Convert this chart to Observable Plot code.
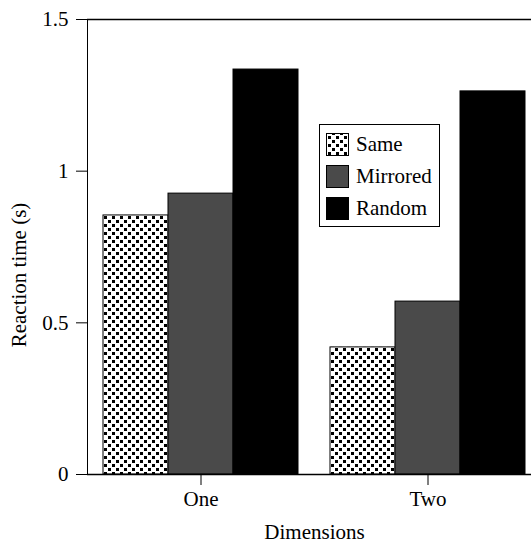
<!DOCTYPE html>
<html>
<head>
<meta charset="utf-8">
<script src="https://cdn.jsdelivr.net/npm/d3@7"></script>
<script src="https://cdn.jsdelivr.net/npm/@observablehq/plot@0.6"></script>
<style>
  html, body { margin: 0; padding: 0; background: white; }
  #chart { width: 531px; height: 544px; overflow: hidden; position: relative; }
  #chart svg { max-width: none !important; }
</style>
</head>
<body>
<div id="chart"></div>
<script>
const dimensions = ["One", "Two"];
const conditions = ["Same", "Mirrored", "Random"];
const sameValues = [0.854, 0.419];
const mirroredValues = [0.926, 0.570];
const randomValues = [1.335, 1.263];
const yTicks = [0, 0.5, 1, 1.5];
const fills = ["url(#dots)", "#4a4a4a", "#000000"];

const seriesValues = [sameValues, mirroredValues, randomValues];
const data = [];
dimensions.forEach((dim, i) => {
  conditions.forEach((cond, j) => {
    data.push({dim, cond, value: seriesValues[j][i]});
  });
});

const FONT = "Liberation Serif";

const plot = Plot.plot({
  width: 541,
  height: 544,
  marginLeft: 87,
  marginRight: 0,
  marginTop: 19,
  marginBottom: 70,
  style: {fontFamily: FONT, fontSize: "21px", color: "black", background: "white", overflow: "visible", maxWidth: "none"},
  fx: {domain: dimensions, paddingInner: 0, paddingOuter: 0, axis: "bottom", tickSize: 11, tickPadding: 6,
       label: "Dimensions", labelAnchor: "center", labelOffset: 64},
  x: {domain: conditions, axis: null, paddingInner: 0, paddingOuter: 0.246},
  y: {domain: [0, 1.5], ticks: yTicks, tickFormat: d => String(d), tickSize: 11, tickPadding: 8, label: null, line: true},
  color: {domain: conditions, range: fills},
  marks: [
    Plot.barY(data, {fx: "dim", x: "cond", y: "value", fill: "cond", stroke: "black", strokeWidth: 1, inset: 0}),
    Plot.ruleY([0], {stroke: "black", strokeWidth: 1.5}),
    Plot.ruleY([1.5], {stroke: "black", strokeWidth: 1.5})
  ]
});

const svg = d3.select(plot);
const defs = svg.insert("defs", ":first-child");
const pat = defs.append("pattern").attr("id", "dots").attr("patternUnits", "userSpaceOnUse")
  .attr("width", 8).attr("height", 8);
pat.append("rect").attr("width", 8).attr("height", 8).attr("fill", "white");
pat.append("rect").attr("x", 0).attr("y", 0).attr("width", 3).attr("height", 3).attr("fill", "black");
pat.append("rect").attr("x", 4).attr("y", 4).attr("width", 3).attr("height", 3).attr("fill", "black");

// y-axis title
svg.append("text")
  .attr("transform", "translate(26,275) rotate(-90)")
  .attr("text-anchor", "middle")
  .attr("font-family", FONT).attr("font-size", 21)
  .attr("fill", "black")
  .text("Reaction time (s)");

// legend
const lg = svg.append("g").attr("font-family", FONT).attr("font-size", 21).attr("text-anchor", "start");
lg.append("rect").attr("x", 319.5).attr("y", 124.5).attr("width", 120).attr("height", 102)
  .attr("fill", "white").attr("stroke", "black").attr("stroke-width", 1);
conditions.forEach((c, i) => {
  const y0 = 133 + i * 32;
  lg.append("rect").attr("x", 326.5).attr("y", y0 + 0.5).attr("width", 22).attr("height", 22)
    .attr("fill", fills[i]).attr("stroke", "black").attr("stroke-width", 1);
  lg.append("text").attr("x", 356).attr("y", y0 + 18).attr("fill", "black").text(c);
});

document.getElementById("chart").appendChild(plot);
</script>
</body>
</html>
